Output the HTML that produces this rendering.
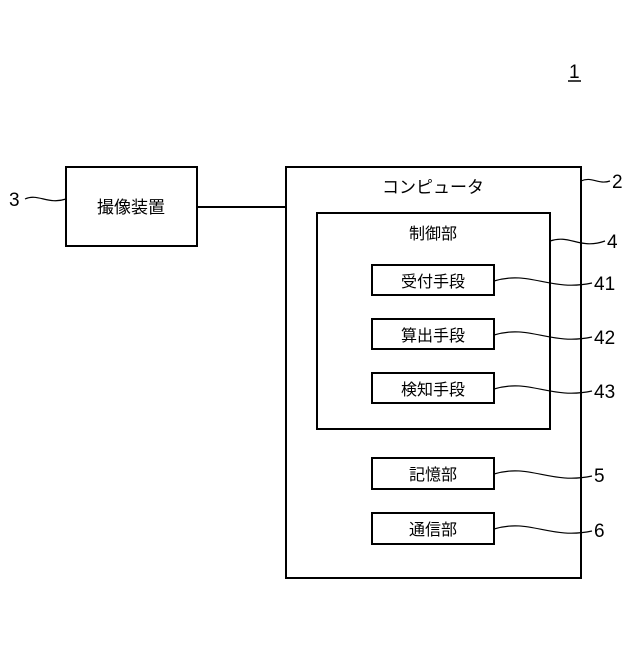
<!DOCTYPE html>
<html><head><meta charset="utf-8"><style>body{margin:0;background:#fff}</style></head><body>
<svg width="640" height="640" xmlns="http://www.w3.org/2000/svg" font-family="Liberation Sans, Noto Sans CJK JP, sans-serif">
<g fill="none" stroke="#000" stroke-width="2">
<rect x="66" y="167" width="131" height="79"/>
<line x1="197" y1="207" x2="286" y2="207"/>
<rect x="286" y="167" width="295" height="411"/>
<rect x="317" y="213" width="233" height="216"/>
<rect x="372" y="265" width="122" height="30"/>
<rect x="372" y="319" width="122" height="30"/>
<rect x="372" y="373" width="122" height="30"/>
<rect x="372" y="458" width="122" height="31"/>
<rect x="372" y="513" width="122" height="31"/>
</g>
<g fill="none" stroke="#000" stroke-width="1.2">
<path d="M581,181 C592,176 598,185 610,181"/>
<path d="M550,241 C570,234 580,250 605,241"/>
<path d="M494,281 C530,270 550,292 592,283"/>
<path d="M494,335 C530,324 550,346 592,337"/>
<path d="M494,389 C530,378 550,400 592,391"/>
<path d="M494,474 C530,463 550,485 592,476"/>
<path d="M494,529 C530,518 550,540 592,531"/>
<path d="M25,199 C38,193 48,205 66,199"/>
</g>
<g font-size="18" fill="#000">
<text x="131" y="213" text-anchor="middle" font-size="17">撮像装置</text>
<text x="433" y="193" text-anchor="middle" font-size="17">コンピュータ</text>
<text x="433" y="239" text-anchor="middle" font-size="16">制御部</text>
<text x="433" y="287" text-anchor="middle" font-size="16">受付手段</text>
<text x="433" y="341" text-anchor="middle" font-size="16">算出手段</text>
<text x="433" y="395" text-anchor="middle" font-size="16">検知手段</text>
<text x="433" y="480" text-anchor="middle" font-size="16">記憶部</text>
<text x="433" y="535" text-anchor="middle" font-size="16">通信部</text>
<text x="9" y="206" font-size="19">3</text>
<text x="612" y="188" font-size="19">2</text>
<text x="607" y="248" font-size="19">4</text>
<text x="594" y="290" font-size="19">41</text>
<text x="594" y="344" font-size="19">42</text>
<text x="594" y="398" font-size="19">43</text>
<text x="594" y="482" font-size="19">5</text>
<text x="594" y="537" font-size="19">6</text>
<text x="569" y="78" font-size="19">1</text>
</g>
<line x1="568" y1="81" x2="581" y2="81" stroke="#000" stroke-width="1.5"/>
</svg>
</body></html>
